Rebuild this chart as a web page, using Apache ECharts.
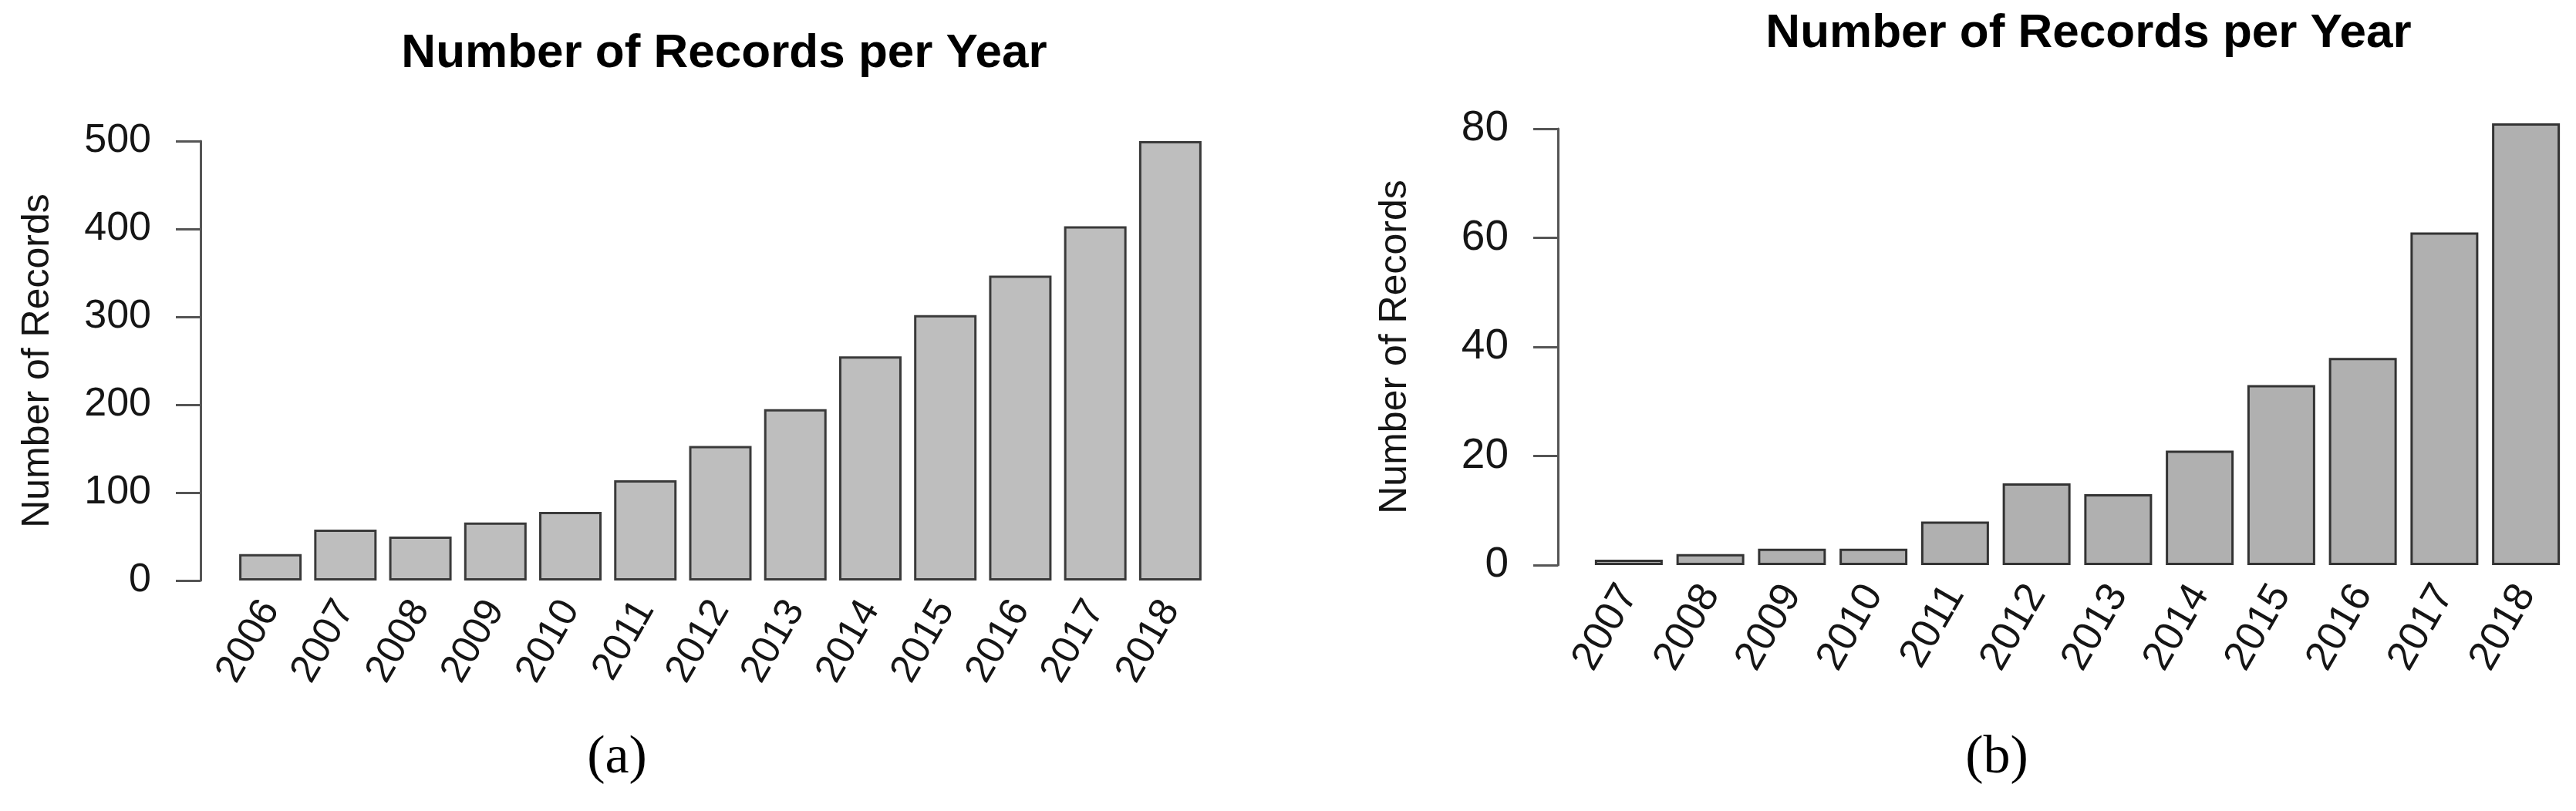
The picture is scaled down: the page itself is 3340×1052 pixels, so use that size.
<!DOCTYPE html>
<html>
<head>
<meta charset="utf-8">
<title>Number of Records per Year</title>
<script src="https://cdn.jsdelivr.net/npm/echarts@6/dist/echarts.min.js"></script>
<style>
  html, body { margin: 0; padding: 0; background: #fff; }
  #chart { width: 3340px; height: 1052px; }
</style>
</head>
<body>
<div id="chart"></div>
<script>
// panel (a): all records
var yearsA = ["2006", "2007", "2008", "2009", "2010", "2011", "2012", "2013", "2014", "2015", "2016", "2017", "2018"];
var countsA = [30, 58, 50, 66, 78, 114, 153, 195, 255, 302, 347, 403, 500];
var ticksA = { min: 0, max: 500, interval: 100 };

// panel (b): subset
var yearsB = ["2007", "2008", "2009", "2010", "2011", "2012", "2013", "2014", "2015", "2016", "2017", "2018"];
var countsB = [1, 2, 3, 3, 8, 15, 13, 21, 33, 38, 61, 81];
var ticksB = { min: 0, max: 80, interval: 20 };

var titleText = "Number of Records per Year";
var yName = "Number of Records";

var sans = "'Liberation Sans', Arial, Helvetica, sans-serif";
var serif = "'Liberation Serif', 'DejaVu Serif', serif";
var axisColor = "#555";
var textColor = "#151515";

function yAxisOpt(grid, ticks, offset, fontSize) {
  return {
    gridIndex: grid,
    type: "value",
    min: ticks.min,
    max: ticks.max,
    interval: ticks.interval,
    offset: offset,
    name: yName,
    nameLocation: "middle",
    nameGap: 186,
    nameTextStyle: { fontFamily: sans, fontSize: 50, color: textColor },
    axisLine: { show: true, lineStyle: { color: axisColor, width: 3 } },
    axisTick: { show: true, length: 32, lineStyle: { color: axisColor, width: 3 } },
    axisLabel: { margin: 64, fontFamily: sans, fontSize: fontSize, color: textColor },
    splitLine: { show: false }
  };
}

function xAxisOpt(grid, years, fontSize) {
  return {
    gridIndex: grid,
    type: "category",
    data: years,
    axisLine: { show: false },
    axisTick: { show: false },
    axisLabel: {
      interval: 0,
      rotate: 60,
      margin: 30,
      fontFamily: sans,
      fontSize: fontSize,
      color: textColor
    }
  };
}

var myChart = echarts.init(document.getElementById("chart"), null, { renderer: "canvas" });

var option = {
  backgroundColor: "#fff",
  animation: false,
  title: [
    {
      text: titleText, left: 934, top: 34, textAlign: "center",
      textStyle: { fontFamily: sans, fontSize: 62, fontWeight: "bold", color: "#000" }
    },
    {
      text: titleText, left: 2703, top: 8, textAlign: "center",
      textStyle: { fontFamily: sans, fontSize: 62, fontWeight: "bold", color: "#000" }
    },
    {
      text: "(a)", left: 795, top: 944, textAlign: "center",
      textStyle: { fontFamily: serif, fontSize: 70, fontWeight: "normal", color: "#000" }
    },
    {
      text: "(b)", left: 2584, top: 944, textAlign: "center",
      textStyle: { fontFamily: serif, fontSize: 70, fontWeight: "normal", color: "#000" }
    }
  ],
  grid: [
    { left: 302, top: 183, width: 1264, height: 570 },
    { left: 2059, top: 167, width: 1269, height: 566 }
  ],
  xAxis: [xAxisOpt(0, yearsA, 51), xAxisOpt(1, yearsB, 53)],
  yAxis: [yAxisOpt(0, ticksA, 42, 52), yAxisOpt(1, ticksB, 39, 55)],
  series: [
    {
      name: "a",
      type: "bar",
      xAxisIndex: 0,
      yAxisIndex: 0,
      data: countsA,
      barWidth: 81,
      clip: false,
      itemStyle: { color: "#bebebe", borderColor: "#3a3a3a", borderWidth: 3 }
    },
    {
      name: "b",
      type: "bar",
      xAxisIndex: 1,
      yAxisIndex: 1,
      data: countsB,
      barWidth: 88,
      clip: false,
      itemStyle: { color: "#b0b0b0", borderColor: "#333", borderWidth: 3 }
    }
  ]
};

option && myChart.setOption(option);
</script>
</body>
</html>
